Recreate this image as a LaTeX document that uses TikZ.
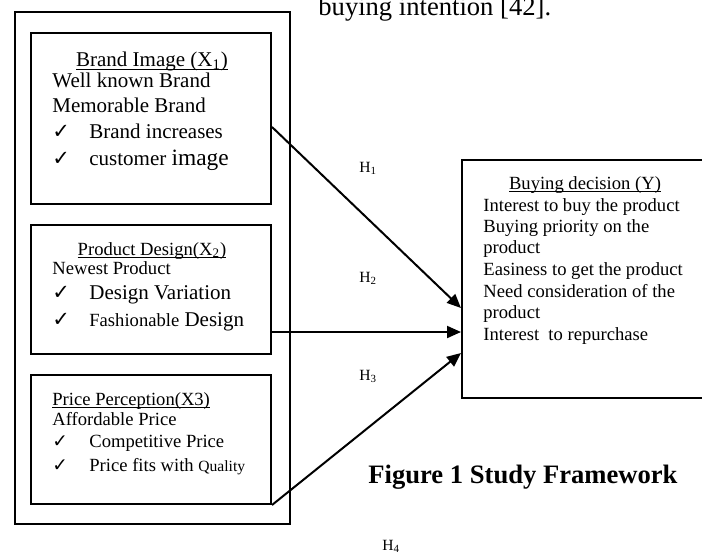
\documentclass[tikz,border=0pt]{standalone}
\usepackage{amsmath}
\usepackage{fontspec}
\setmainfont{Liberation Serif}
\newfontfamily\checkfont{DejaVu Sans}
\usetikzlibrary{arrows.meta}

\newcommand{\fontbig}{\fontsize{10.5pt}{12pt}\selectfont}
\newcommand{\fontmid}{\fontsize{9.3pt}{11pt}\selectfont}
\newcommand{\fontsmall}{\fontsize{7.8pt}{9pt}\selectfont}
\newcommand{\fontcap}{\fontsize{13.3pt}{15pt}\selectfont}
\newcommand{\tick}{\makebox[18.5pt][l]{\checkfont ✓}}
\newcommand{\ulin}[1]{\underline{\smash{#1}}}

\begin{document}
\begin{tikzpicture}[x=0.5pt,y=-0.5pt,
  box/.style={draw,line width=1pt,inner sep=0pt,minimum width=120pt},
  txt/.style={inner sep=0pt,anchor=base west},
  hyp/.style={-{Triangle[length=7pt,width=6pt]},line width=1pt}]
\useasboundingbox (0,0) rectangle (702,553);

\node[txt,font=\fontcap] (prev) at (318,15) {buying intention [42].};

% frame and the three variables
\node[box,minimum width=137.5pt,minimum height=256pt] (frame) at (152.5,268) {};
\node[box,minimum height=85.5pt] (image) at (151,118.5) {};
\node[box,minimum height=64.5pt] (design) at (151,289.5) {};
\node[box,minimum height=64.5pt] (price) at (151,439.5) {};

\node[txt,anchor=base,font=\fontbig] (imaget) at (152,66) {\ulin{Brand Image (X\textsubscript{1})}};
\node[txt,font=\fontbig] (image1) at (52,87) {Well known Brand};
\node[txt,font=\fontbig] (image2) at (52,112) {Memorable Brand};
\node[txt,font=\fontbig] (image3) at (52,138) {\tick Brand increases};
\node[txt,font=\fontbig] (image4) at (52,165) {\tick customer {\fontsize{11.7pt}{13pt}\selectfont image}};

\node[txt,anchor=base,font=\fontmid] (designt) at (152,255) {\ulin{Product Design(X\textsubscript{2})}};
\node[txt,font=\fontmid] (design1) at (52,274) {Newest Product};
\node[txt,font=\fontbig] (design2) at (52,299) {\tick Design Variation};
\node[txt,font=\fontbig] (design3) at (52,326) {\tick{\fontmid Fashionable} Design};

\node[txt,font=\fontmid] (pricet) at (52,405) {\ulin{Price Perception(X3)}};
\node[txt,font=\fontmid] (price1) at (52,425) {Affordable Price};
\node[txt,font=\fontmid] (price2) at (52,447) {\tick Competitive Price};
\node[txt,font=\fontmid] (price3) at (52,471) {\tick Price fits with {\fontsmall Quality}};

% dependent variable
\node[box,minimum width=123pt,minimum height=119pt] (dec) at (585,279) {};
\node[txt,anchor=base,font=\fontmid] (dect) at (585,189) {\ulin{Buying decision (Y)}};
\node[txt,font=\fontmid] (dec1) at (483,211) {Interest to buy the product};
\node[txt,font=\fontmid] (dec2) at (483,232) {Buying priority on the};
\node[txt,font=\fontmid] (dec3) at (483,253) {product};
\node[txt,font=\fontmid] (dec4) at (483,275) {Easiness to get the product};
\node[txt,font=\fontmid] (dec5) at (483,297) {Need consideration of the};
\node[txt,font=\fontmid] (dec6) at (483,318) {product};
\node[txt,font=\fontmid] (dec7) at (483,340) {Interest\ \ to repurchase};

% hypotheses
\draw[hyp] ([yshift=-4.25pt]image.east) -- ([yshift=-14.5pt]dec.west);
\draw[hyp] ([yshift=-21.25pt]design.east) -- ([yshift=-26.5pt]dec.west);
\draw[hyp] (price.south east) -- ([yshift=-37pt]dec.west);
\node[txt,font=\fontsmall] (h1) at (359,172) {H\textsubscript{1}};
\node[txt,font=\fontsmall] (h2) at (359,282) {H\textsubscript{2}};
\node[txt,font=\fontsmall] (h3) at (359,380) {H\textsubscript{3}};
\node[txt,font=\fontsmall] (h4) at (382,550) {H\textsubscript{4}};

\node[txt,font=\fontcap\bfseries] (caption) at (368,483) {Figure 1 Study Framework};
\end{tikzpicture}
\end{document}
